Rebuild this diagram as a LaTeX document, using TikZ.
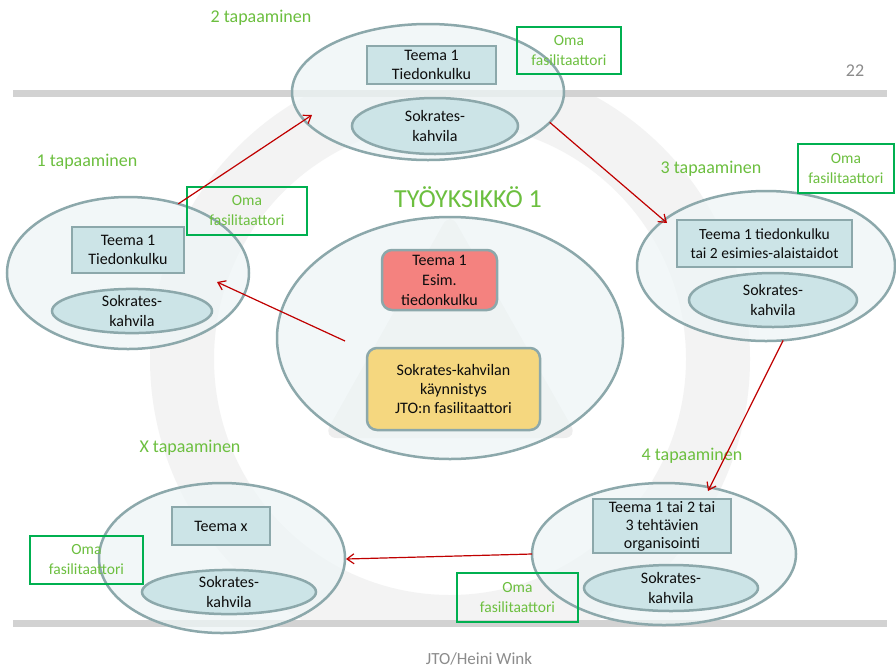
\documentclass[tikz,border=0pt]{standalone}
\usepackage{fontspec}
\setmainfont{Carlito}
\usetikzlibrary{shapes.geometric,arrows.meta}
\definecolor{edgec}{HTML}{8CA8AB}
\definecolor{ellf}{HTML}{EEF5F6}
\definecolor{innf}{HTML}{CCE4E7}
\definecolor{redf}{HTML}{F4827F}
\definecolor{yelf}{HTML}{F5D77F}
\definecolor{grn}{HTML}{6CBF3F}
\definecolor{facb}{HTML}{00B050}
\definecolor{arrc}{HTML}{C00000}
\definecolor{barc}{HTML}{D2D2D2}
\definecolor{ringc}{HTML}{F3F3F3}
\definecolor{tric}{HTML}{EEEEEE}
\definecolor{txtc}{HTML}{0D0D0D}
\definecolor{grayt}{HTML}{8C8C8C}
\begin{document}
\begin{tikzpicture}[x=1pt,y=-1pt,
  meet/.style={ellipse, draw=edgec, line width=2.5pt, fill=ellf, fill opacity=0.75, inner sep=0pt, outer sep=0pt},
  theme/.style={rectangle, draw=edgec, line width=2.5pt, fill=innf, inner sep=0pt, align=center, text=txtc, font=\fontsize{16}{19}\selectfont},
  cafe/.style={ellipse, draw=edgec, line width=2.5pt, fill=innf, inner sep=0pt, align=center, text=txtc, font=\fontsize{16}{20}\selectfont},
  core/.style={rectangle, rounded corners=10pt, draw=edgec, line width=2.5pt, inner sep=0pt, align=center, text=txtc, font=\fontsize{16}{20}\selectfont},
  fac/.style={rectangle, draw=facb, line width=2pt, inner sep=0pt, align=center, text=grn, font=\fontsize{15.5}{20}\selectfont},
  lbl/.style={text=grn, font=\fontsize{18}{20}\selectfont, inner sep=0pt},
  flow/.style={draw=arrc, line width=1.2pt, -{Straight Barb[length=7pt,width=10pt]}}
]
\useasboundingbox (0,0) rectangle (896,670);
\fill[white] (0,0) rectangle (896,670);

% watermark
\begin{scope}
  \clip (0,93) rectangle (896,620);
  \fill[ringc, even odd rule] (450,359) circle[radius=300pt] (450,359) circle[radius=236pt];
\end{scope}
\fill[tric, rounded corners=14pt] (450,212) -- (578,438) -- (323,438) -- cycle;

% bars
\fill[barc] (13,90) rectangle (887,97);
\fill[barc] (13,620) rectangle (887,627);

\node[text=grayt, font=\fontsize{18}{20}\selectfont, inner sep=0pt] (pg) at (855,71) {22};
\node[text=grayt, font=\fontsize{17}{19}\selectfont, inner sep=0pt] (foot) at (479,659) {JTO/Heini Wink};

% meetings (outer ellipses)
\node[meet, minimum width=272pt, minimum height=136pt] (e2) at (428,92) {};
\node[meet, minimum width=242pt, minimum height=152pt] (e1) at (128,273) {};
\node[meet, minimum width=258pt, minimum height=150pt] (e3) at (766,266) {};
\node[meet, minimum width=346pt, minimum height=242pt] (e0) at (450,338) {};
\node[meet, minimum width=264pt, minimum height=142pt] (e4) at (664,554) {};
\node[meet, minimum width=246pt, minimum height=150pt] (ex) at (222,558) {};

% themes
\node[theme, minimum width=129pt, minimum height=38pt] (t2) at (431.5,65) {Teema 1\\Tiedonkulku};
\node[theme, minimum width=112pt, minimum height=46pt] (t1) at (128,250) {Teema 1\\Tiedonkulku};
\node[theme, minimum width=175pt, minimum height=47pt, font=\fontsize{15.5}{19}\selectfont] (t3) at (764.5,243.5) {Teema 1 tiedonkulku\\tai 2 esimies-alaistaidot};
\node[theme, minimum width=138pt, minimum height=54pt, font=\fontsize{16}{18}\selectfont] (t4) at (662,526) {Teema 1 tai 2 tai\\3 tehtävien\\organisointi};
\node[theme, minimum width=98pt, minimum height=38pt] (tx) at (221,526) {Teema x};

% cafes
\node[cafe, minimum width=166pt, minimum height=56pt] (c2) at (435,126) {Sokrates-\\kahvila};
\node[cafe, minimum width=160pt, minimum height=44pt] (c1) at (132,311) {Sokrates-\\kahvila};
\node[cafe, minimum width=168pt, minimum height=54pt] (c3) at (773,300) {Sokrates-\\kahvila};
\node[cafe, minimum width=174pt, minimum height=46pt] (c4) at (671,588) {Sokrates-\\kahvila};
\node[cafe, minimum width=174pt, minimum height=36pt] (cx) at (229,592) {Sokrates-\\kahvila};

% core
\node[core, fill=redf, minimum width=115pt, minimum height=60pt] (r0) at (439.5,280) {Teema 1\\Esim.\\tiedonkulku};
\node[core, fill=yelf, minimum width=173pt, minimum height=82pt, font=\fontsize{16}{19}\selectfont] (y0) at (453.5,389) {Sokrates-kahvilan\\käynnistys\\JTO:n fasilitaattori};

% labels
\node[lbl] (l2) at (261,18) {2 tapaaminen};
\node[lbl] (l1) at (87,162) {1 tapaaminen};
\node[lbl] (l3) at (711,169) {3 tapaaminen};
\node[lbl] (l4) at (692,456) {4 tapaaminen};
\node[lbl] (lx) at (190,448) {X tapaaminen};
\node[lbl, font=\fontsize{26}{28}\selectfont] (title) at (468,197) {TYÖYKSIKKÖ 1};

% facilitators
\node[fac, minimum width=104pt, minimum height=47pt] (f2) at (569,50.5) {Oma\\fasilitaattori};
\node[fac, minimum width=120pt, minimum height=48pt] (f1) at (247,211) {Oma\\fasilitaattori};
\node[fac, minimum width=96pt, minimum height=49pt] (f3) at (846,168.5) {Oma\\fasilitaattori};
\node[fac, minimum width=121pt, minimum height=49pt] (f4) at (517.5,597.5) {Oma\\fasilitaattori};
\node[fac, minimum width=113pt, minimum height=48pt] (fx) at (86.5,560) {Oma\\fasilitaattori};

% arrow ends
\coordinate (p2) at (312,115);
\coordinate (p3) at (667,223);
\coordinate (p4) at (708,491);
\coordinate (px) at (346,559);
\coordinate (p1) at (217,282);
\coordinate (s0) at (345,341);

\draw[flow] (e1.54) -- (p2);
\draw[flow] (e2.-14) -- (p3);
\draw[flow] (e3.-77) -- (p4);
\draw[flow] (e4.180) -- (px);
\draw[flow] (s0) -- (p1);
\end{tikzpicture}
\end{document}
